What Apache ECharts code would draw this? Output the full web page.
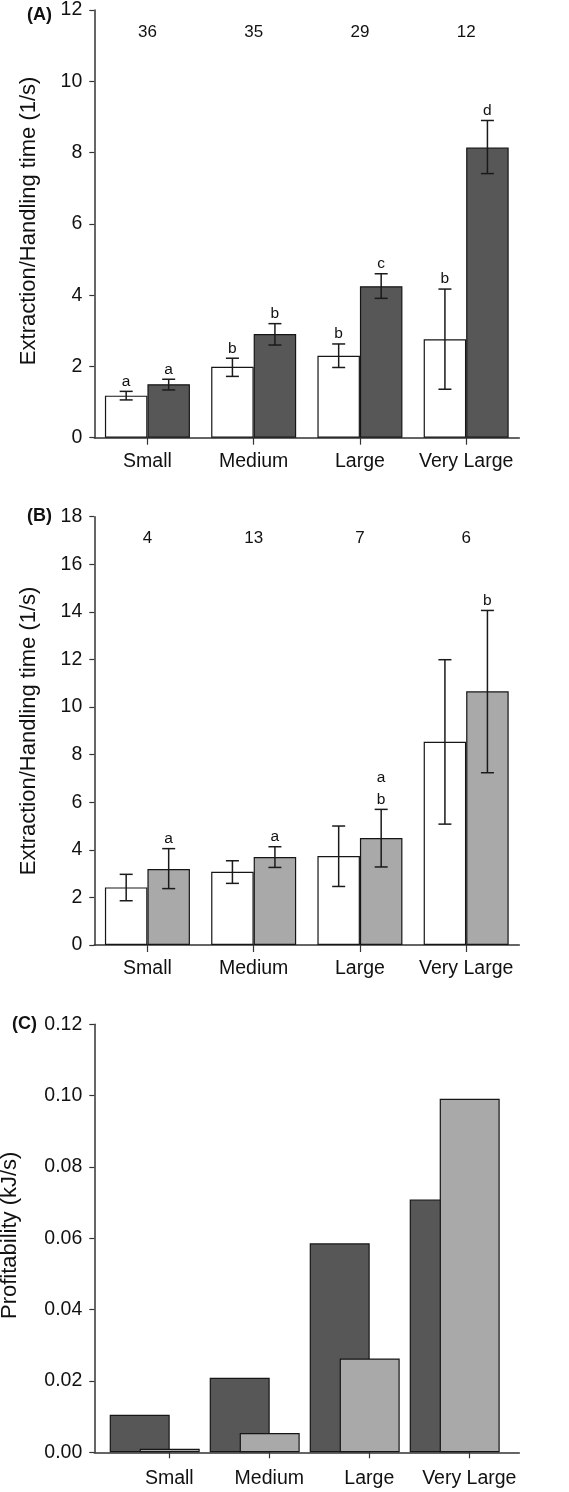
<!DOCTYPE html>
<html>
<head>
<meta charset="utf-8">
<script src="https://cdn.jsdelivr.net/npm/echarts@6/dist/echarts.min.js"></script>
<style>
html,body{margin:0;padding:0;background:#fff;}
#chart{width:569px;height:1492px;}
</style>
</head>
<body>
<div id="chart"></div>
<script>
const categories = ['Small', 'Medium', 'Large', 'Very Large'];

// Panel A
const nA = ['36', '35', '29', '12'];
const aWhite = [1.18, 1.99, 2.30, 2.76];
const aWhiteLow = [1.06, 1.72, 1.97, 1.36];
const aWhiteHigh = [1.30, 2.23, 2.63, 4.17];
const aWhiteLetters = ['a', 'b', 'b', 'b'];
const aDark = [1.50, 2.91, 4.25, 8.14];
const aDarkLow = [1.34, 2.60, 3.91, 7.41];
const aDarkHigh = [1.64, 3.20, 4.60, 8.90];
const aDarkLetters = ['a', 'b', 'c', 'd'];
const aAxis = { min: 0, max: 12, interval: 2 };

// Panel B
const nB = ['4', '13', '7', '6'];
const bWhite = [2.42, 3.08, 3.74, 8.54];
const bWhiteLow = [1.86, 2.59, 2.46, 5.08];
const bWhiteHigh = [2.97, 3.54, 5.00, 11.99];
const bWhiteLetters = ['', '', '', ''];
const bGray = [3.19, 3.70, 4.50, 10.66];
const bGrayLow = [2.37, 3.26, 3.28, 7.24];
const bGrayHigh = [4.05, 4.13, 5.70, 14.06];
const bGrayLetters = ['a', 'a', 'a\nb', 'b'];
const bAxis = { min: 0, max: 18, interval: 2 };

// Panel C
const cDark = [0.0105, 0.0209, 0.0586, 0.0709];
const cGray = [0.0010, 0.0054, 0.0263, 0.0991];
const cAxis = { min: 0, max: 0.12, interval: 0.02 };

const yTitleAB = 'Extraction/Handling time (1/s)';
const yTitleC = 'Profitability (kJ/s)';
const panelLabels = ['(A)', '(B)', '(C)'];

const FONT = 'Liberation Sans, Arial, sans-serif';
const AX = '#333';
const INK = '#111';
const DARK = '#575757';
const LIGHT = '#a9a9a9';

const chart = echarts.init(document.getElementById('chart'), null, { renderer: 'canvas' });

function valueAxis(grid, rng, name, nameGap, namePad, fmt) {
  return {
    type: 'value', gridIndex: grid, min: rng.min, max: rng.max, interval: rng.interval,
    name: name, nameLocation: 'middle', nameGap: nameGap,
    nameTextStyle: { fontFamily: FONT, fontSize: 22, color: INK, padding: [0, 0, 0, namePad] },
    axisLine: { show: true, lineStyle: { color: AX, width: 1.5 } },
    axisTick: { show: true, length: 5, lineStyle: { color: AX, width: 1.2 } },
    axisLabel: { margin: 12, fontFamily: FONT, fontSize: 19.5, color: INK, formatter: fmt },
    splitLine: { show: false }
  };
}
function hiddenValueAxis(grid, rng) {
  return { type: 'value', gridIndex: grid, min: rng.min, max: rng.max, interval: rng.interval,
    show: false, splitLine: { show: false } };
}
function catAxis(grid, opts) {
  return Object.assign({
    type: 'category', gridIndex: grid, data: categories, position: 'bottom',
    axisLine: { show: true, lineStyle: { color: AX, width: 1.5 } },
    axisTick: { show: true, alignWithLabel: true, length: 7, lineStyle: { color: AX, width: 1.2 } },
    axisLabel: { interval: 0, margin: 14, fontFamily: FONT, fontSize: 19.5, color: INK },
    splitLine: { show: false }
  }, opts);
}
function nAxis(grid, labels) {
  return {
    type: 'category', gridIndex: grid, data: labels, position: 'top',
    axisLine: { show: false }, axisTick: { show: false },
    axisLabel: { interval: 0, inside: true, margin: 13.5, fontFamily: FONT, fontSize: 17, color: INK },
    splitLine: { show: false }
  };
}
function barSeries(xi, yi, data, color) {
  return {
    type: 'bar', xAxisIndex: xi, yAxisIndex: yi, data: data,
    barGap: '0%', barCategoryGap: '20%',
    itemStyle: { color: color, borderColor: '#161616', borderWidth: 1.2 },
    emphasis: { disabled: true }
  };
}
function errorSeries(xi, yi, low, high, letters, side) {
  return {
    type: 'custom', xAxisIndex: xi, yAxisIndex: yi, z: 5,
    data: low.map((l, i) => [i, l, high[i]]),
    encode: { x: 0, y: [1, 2] },
    renderItem: function (params, api) {
      const i = api.value(0);
      const pLo = api.coord([i, api.value(1)]);
      const pHi = api.coord([i, api.value(2)]);
      const band = api.size([1, 0])[0];
      const x = pLo[0] + side * band * 0.2;
      const cap = 6.5;
      const st = { stroke: '#1a1a1a', lineWidth: 1.5 };
      const children = [
        { type: 'line', shape: { x1: x, y1: pLo[1], x2: x, y2: pHi[1] }, style: st },
        { type: 'line', shape: { x1: x - cap, y1: pLo[1], x2: x + cap, y2: pLo[1] }, style: st },
        { type: 'line', shape: { x1: x - cap, y1: pHi[1], x2: x + cap, y2: pHi[1] }, style: st }
      ];
      const t = letters[params.dataIndex];
      if (t) {
        children.push({ type: 'text', style: { text: t, x: x, y: pHi[1] + 1, align: 'center',
          verticalAlign: 'bottom', fontFamily: FONT, fontSize: 15.5, lineHeight: 22, fill: INK } });
      }
      return { type: 'group', children: children };
    }
  };
}

const titleStyle = { fontFamily: FONT, fontSize: 18, fontWeight: 'bold', color: INK };
const gridBase = { outerBoundsMode: 'none', containLabel: false };

const option = {
  animation: false,
  title: [
    { text: panelLabels[0], left: 27, top: 6, padding: 0, textStyle: titleStyle },
    { text: panelLabels[1], left: 27, top: 507, padding: 0, textStyle: titleStyle },
    { text: panelLabels[2], left: 12, top: 1015, padding: 0, textStyle: titleStyle }
  ],
  grid: [
    Object.assign({ left: 94.3, top: 10, width: 425, height: 427.7 }, gridBase),
    Object.assign({ left: 94.3, top: 516.7, width: 425, height: 428.3 }, gridBase),
    Object.assign({ left: 94.3, top: 1024.3, width: 425, height: 428 }, gridBase),
    Object.assign({ left: 104.7, top: 1024.3, width: 400, height: 428 }, gridBase),
    Object.assign({ left: 119.3, top: 1024.3, width: 400, height: 428 }, gridBase)
  ],
  xAxis: [
    catAxis(0, {}),
    nAxis(0, nA),
    catAxis(1, {}),
    nAxis(1, nB),
    catAxis(2, { axisTick: { show: false }, axisLabel: { show: false } }),
    catAxis(3, { show: false }),
    catAxis(4, { axisLine: { show: false },
      axisTick: { show: true, alignWithLabel: true, length: 6, lineStyle: { color: AX, width: 1.2 } },
      axisLabel: { interval: 0, margin: 16, fontFamily: FONT, fontSize: 19.5, color: INK } })
  ],
  yAxis: [
    valueAxis(0, aAxis, yTitleAB, 54, 6, v => String(v)),
    valueAxis(1, bAxis, yTitleAB, 54, 0, v => String(v)),
    valueAxis(2, cAxis, yTitleC, 73, 6, v => v.toFixed(2)),
    hiddenValueAxis(3, cAxis),
    hiddenValueAxis(4, cAxis)
  ],
  series: [
    barSeries(0, 0, aWhite, '#ffffff'),
    barSeries(0, 0, aDark, DARK),
    errorSeries(0, 0, aWhiteLow, aWhiteHigh, aWhiteLetters, -1),
    errorSeries(0, 0, aDarkLow, aDarkHigh, aDarkLetters, 1),
    barSeries(2, 1, bWhite, '#ffffff'),
    barSeries(2, 1, bGray, LIGHT),
    errorSeries(2, 1, bWhiteLow, bWhiteHigh, bWhiteLetters, -1),
    errorSeries(2, 1, bGrayLow, bGrayHigh, bGrayLetters, 1),
    { type: 'bar', xAxisIndex: 5, yAxisIndex: 3, data: cDark, barWidth: 60, barGap: '-50%',
      itemStyle: { color: DARK, borderColor: '#161616', borderWidth: 1.2 }, emphasis: { disabled: true } },
    { type: 'bar', xAxisIndex: 5, yAxisIndex: 3, data: cGray, barWidth: 60, barGap: '-50%',
      itemStyle: { color: LIGHT, borderColor: '#161616', borderWidth: 1.2 }, emphasis: { disabled: true } }
  ]
};
chart.setOption(option);
</script>
</body>
</html>
